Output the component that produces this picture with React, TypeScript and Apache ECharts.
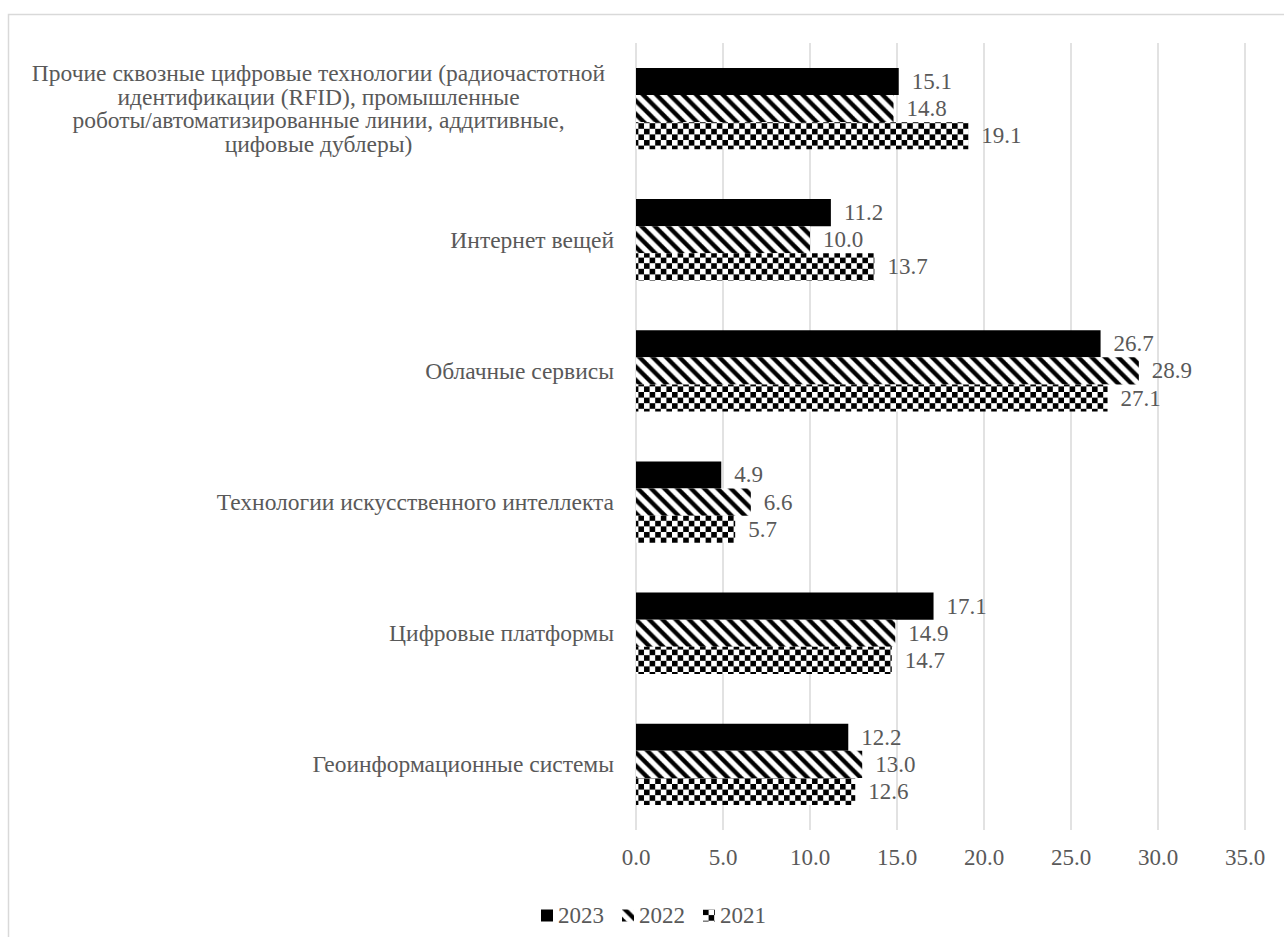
import React, { useEffect, useRef } from 'react';
import * as echarts from 'echarts';

const categories = [
  'Прочие сквозные цифровые технологии (радиочастотной\nидентификации (RFID), промышленные\nроботы/автоматизированные линии, аддитивные,\nцифовые дублеры)',
  'Интернет вещей',
  'Облачные сервисы',
  'Технологии искусственного интеллекта',
  'Цифровые платформы',
  'Геоинформационные системы',
];
const seriesNames = ['2023', '2022', '2021'];
const values2023 = [15.1, 11.2, 26.7, 4.9, 17.1, 12.2];
const values2022 = [14.8, 10.0, 28.9, 6.6, 14.9, 13.0];
const values2021 = [19.1, 13.7, 27.1, 5.7, 14.7, 12.6];
const xMin = 0;
const xMax = 35;
const xInterval = 5;

const FONT = '"Liberation Serif", "Times New Roman", serif';
const TEXT = '#595959';
const GRID = '#d9d9d9';
const CAT_SIZE = 23.5;
const CAT_LINE = 23.6;
const NUM_SIZE = 23;

function stripePattern() {
  const s = 40;
  const c = document.createElement('canvas');
  c.width = s;
  c.height = s;
  const ctx = c.getContext('2d')!;
  ctx.fillStyle = '#fff';
  ctx.fillRect(0, 0, s, s);
  ctx.fillStyle = '#000';
  const w = s * 0.46;
  ctx.beginPath();
  ctx.moveTo(0, 0);
  ctx.lineTo(w, 0);
  ctx.lineTo(s, s - w);
  ctx.lineTo(s, s);
  ctx.closePath();
  ctx.fill();
  ctx.beginPath();
  ctx.moveTo(0, s - w);
  ctx.lineTo(w, s);
  ctx.lineTo(0, s);
  ctx.closePath();
  ctx.fill();
  return { image: c.toDataURL(), repeat: 'repeat', imageWidth: 13.3, imageHeight: 13.3 };
}

function checkerPattern() {
  const s = 40;
  const c = document.createElement('canvas');
  c.width = s;
  c.height = s;
  const ctx = c.getContext('2d')!;
  ctx.fillStyle = '#fff';
  ctx.fillRect(0, 0, s, s);
  ctx.fillStyle = '#000';
  ctx.fillRect(0, 0, s / 2, s / 2);
  ctx.fillRect(s / 2, s / 2, s / 2, s / 2);
  return { image: c.toDataURL(), repeat: 'repeat', imageWidth: 11.2, imageHeight: 11.2 };
}

export default function App() {
  const ref = useRef<HTMLDivElement>(null);

  useEffect(() => {
    if (!ref.current) return;
    const chart = echarts.init(ref.current, undefined, { renderer: 'svg' });
    const fills: any[] = ['#000000', stripePattern(), checkerPattern()];
    const data = [values2023, values2022, values2021];

    const option: any = {
      animation: false,
      backgroundColor: '#ffffff',
      textStyle: { fontFamily: FONT },
      graphic: [
        {
          type: 'rect',
          shape: { x: 8.5, y: 14.5, width: 1320, height: 1000 },
          style: { fill: 'none', stroke: GRID, lineWidth: 1.5 },
          silent: true,
        },
      ],
      grid: { left: 636, right: 39, top: 43, bottom: 107, containLabel: false },
      legend: {
        left: 536,
        top: 899,
        itemWidth: 12,
        itemHeight: 12,
        itemGap: 18,
        icon: 'rect',
        data: seriesNames,
        textStyle: { color: TEXT, fontSize: NUM_SIZE, fontFamily: FONT },
      },
      xAxis: {
        type: 'value',
        min: xMin,
        max: xMax,
        interval: xInterval,
        axisLine: { show: false },
        axisTick: { show: false },
        splitLine: { show: true, lineStyle: { color: GRID, width: 1.5 } },
        axisLabel: {
          color: TEXT,
          fontSize: NUM_SIZE,
          fontFamily: FONT,
          margin: 16,
          formatter: (v: number) => v.toFixed(1),
        },
      },
      yAxis: {
        type: 'category',
        inverse: true,
        data: categories,
        axisLine: { show: false },
        axisTick: { show: false },
        axisLabel: {
          interval: 0,
          color: TEXT,
          fontSize: CAT_SIZE,
          fontFamily: FONT,
          margin: 22,
          lineHeight: CAT_LINE,
          formatter: (v: string) =>
            v.indexOf('\n') >= 0
              ? v
                  .split('\n')
                  .map((l) => `{c|${l}}`)
                  .join('\n')
              : v,
          rich: {
            c: {
              width: 591,
              align: 'center',
              fontSize: CAT_SIZE,
              lineHeight: CAT_LINE,
              color: TEXT,
              fontFamily: FONT,
            },
          },
        },
      },
      series: seriesNames.map((name, i) => ({
        name,
        type: 'bar',
        data: data[i],
        barGap: '0%',
        barCategoryGap: '38%',
        itemStyle: { color: fills[i] },
        label: {
          show: true,
          position: 'right',
          distance: 13,
          color: TEXT,
          fontSize: NUM_SIZE,
          fontFamily: FONT,
          formatter: (p: any) => Number(p.value).toFixed(1),
        },
      })),
    };
    chart.setOption(option);
    return () => chart.dispose();
  }, []);

  return (
    <div
      ref={ref}
      style={{ position: 'absolute', left: 0, top: 0, width: 1284, height: 937 }}
    />
  );
}
